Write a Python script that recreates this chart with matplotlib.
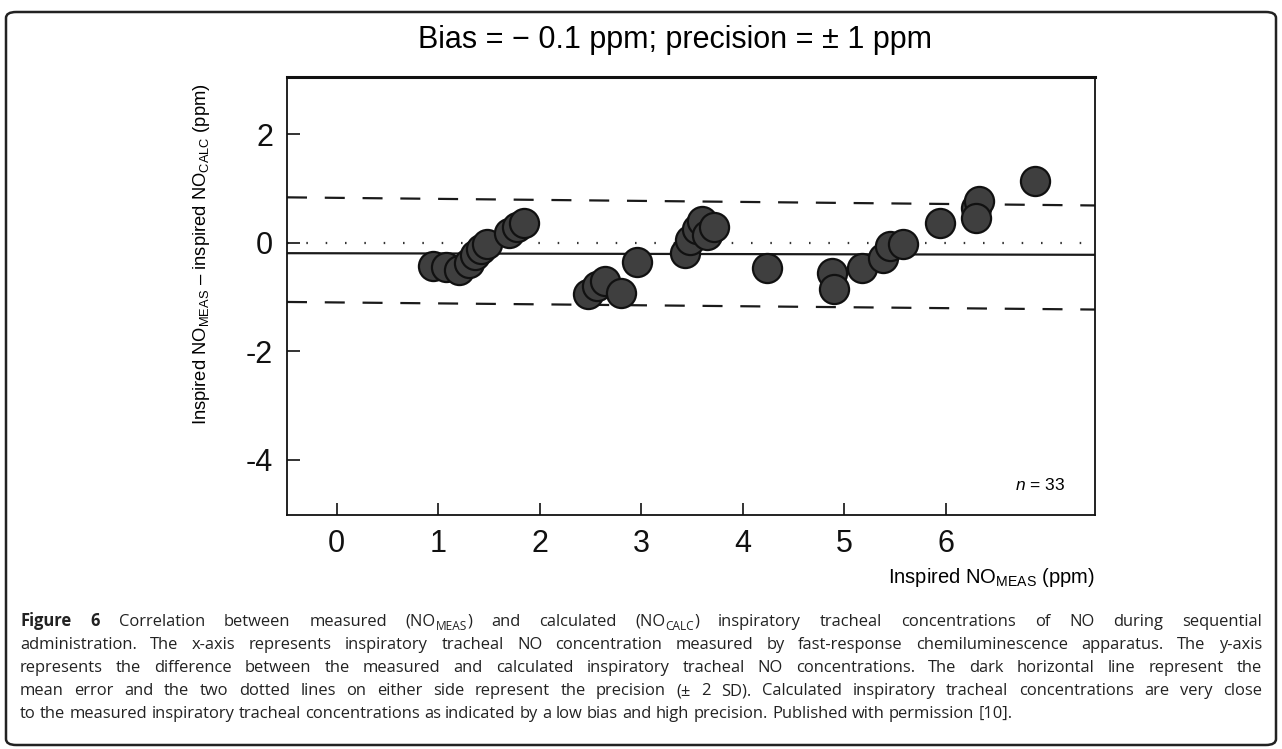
import re

import matplotlib

matplotlib.use("Agg")
import matplotlib.pyplot as plt
from matplotlib.patches import FancyBboxPatch

W, H = 1282, 749

# Bland-Altman style data (n = 33)
meas_no = [0.95, 1.08, 1.20, 1.30, 1.36, 1.42, 1.48, 1.70, 1.78, 1.84,
           2.48, 2.56, 2.64, 2.80, 2.96, 3.43, 3.48, 3.55, 3.60, 3.65,
           3.72, 4.24, 4.88, 4.90, 5.17, 5.38, 5.45, 5.58, 5.94, 6.30,
           6.33, 6.30, 6.88]
diff_no = [-0.42, -0.45, -0.50, -0.38, -0.22, -0.12, -0.02, 0.18, 0.30, 0.36,
           -0.95, -0.80, -0.70, -0.92, -0.36, -0.18, 0.05, 0.25, 0.40, 0.15,
           0.30, -0.46, -0.55, -0.85, -0.46, -0.28, -0.05, -0.02, 0.36, 0.65,
           0.78, 0.45, 1.15]

line_x = [-0.49, 7.47]
bias_line = [-0.19, -0.22]
upper_limit = [0.84, 0.69]
lower_limit = [-1.09, -1.23]
zero_line = [0.0, 0.0]

x_ticks = [0, 1, 2, 3, 4, 5, 6]
y_ticks = [2, 0, -2, -4]

title = "Bias = \u2212 0.1 ppm; precision = \u00b1 1 ppm"
y_label = (r"Inspired NO$_{\mathregular{MEAS}}$" + " \u2013 "
           + r"inspired NO$_{\mathregular{CALC}}$ (ppm)")
x_label = r"Inspired NO$_{\mathregular{MEAS}}$ (ppm)"
caption_lines = [
    "**Figure** **6** Correlation between measured (NO_{MEAS}) and calculated (NO_{CALC}) inspiratory tracheal concentrations of NO during sequential",
    "administration. The x-axis represents inspiratory tracheal NO concentration measured by fast-response chemiluminescence apparatus. The y-axis",
    "represents the difference between the measured and calculated inspiratory tracheal NO concentrations. The dark horizontal line represent the",
    "mean error and the two dotted lines on either side represent the precision (\u00b1 2 SD). Calculated inspiratory tracheal concentrations are very close",
    "to the measured inspiratory tracheal concentrations as indicated by a low bias and high precision. Published with permission [10].",
]

plt.rcParams["font.family"] = ["Liberation Sans", "DejaVu Sans"]
plt.rcParams["axes.unicode_minus"] = False
plt.rcParams["mathtext.fontset"] = "custom"
plt.rcParams["mathtext.rm"] = "Liberation Sans"
plt.rcParams["mathtext.it"] = "Liberation Sans:italic"

fig = plt.figure(figsize=(W / 100, H / 100), dpi=100)
ax = fig.add_axes([287 / W, 1 - 515 / H, (1095 - 287) / W, (515 - 77) / H])

ax.plot(line_x, zero_line, color="#333333", lw=1.6, ls=(0, (0.7, 8)), zorder=1)
ax.plot(line_x, bias_line, color="#1a1a1a", lw=1.6, zorder=1)
ax.plot(line_x, upper_limit, color="#1a1a1a", lw=1.6, ls=(0, (9, 8)), zorder=1)
ax.plot(line_x, lower_limit, color="#1a1a1a", lw=1.6, ls=(0, (9, 8)), zorder=1)
ax.scatter(meas_no, diff_no, s=440, c="#3f3f3f", edgecolors="#111111",
           linewidths=1.6, zorder=3)

ax.set_xlim(-0.49, 7.47)
ax.set_ylim(-5.02, 3.06)
ax.set_xticks(x_ticks)
ax.set_yticks(y_ticks)
ax.tick_params(direction="in", length=9, width=1.2, labelsize=22, pad=10,
               colors="#111111")
for side, sp in ax.spines.items():
    sp.set_linewidth(2.2 if side == "top" else 1.3)
    sp.set_color("#111111")

ax.set_ylabel(y_label, fontsize=13.2)
ax.yaxis.set_label_coords(-0.093, 0.596)
ax.set_xlabel(x_label, loc="right", fontsize=14.5, labelpad=5)
ax.text(0.963, 0.068, r"$\mathit{n}$ = 33", transform=ax.transAxes,
        ha="right", va="center", fontsize=12.5)

fig.text(675 / W, 1 - 40 / H, title, ha="center", va="center", fontsize=22)

fig.patches.append(FancyBboxPatch(
    (6 / W, 1 - 745 / H), 1270 / W, 733 / H,
    boxstyle="round,pad=0,rounding_size=0.008", transform=fig.transFigure,
    fill=False, lw=1.8, edgecolor="#222222"))

# caption, justified word by word
renderer = fig.canvas.get_renderer()
cap_font = ["Open Sans", "DejaVu Sans"]
cap_size = 11.9
x0, x1 = 20, 1262


def pieces(word):
    bold = word.startswith("**")
    word = word.strip("*")
    parts = re.split(r"_\{(.*?)\}", word)
    return [(p, i % 2 == 1, bold) for i, p in enumerate(parts) if p]


def make_text(s, sub, bold, y):
    size = cap_size * 0.72 if sub else cap_size
    return fig.text(0, y, s, fontsize=size, family=cap_font, va="baseline",
                    weight="bold" if bold else "normal", color="#222222")


probe_a = fig.text(0, 0, "a a", fontsize=cap_size, family=cap_font)
probe_b = fig.text(0, 0, "aa", fontsize=cap_size, family=cap_font)
space_w = (probe_a.get_window_extent(renderer).width
           - probe_b.get_window_extent(renderer).width)
probe_a.remove()
probe_b.remove()

for i, line in enumerate(caption_lines):
    base = 626 + 23 * i
    words = []
    for w in line.split(" "):
        items = []
        for s, sub, bold in pieces(w):
            y = 1 - (base + (4 if sub else 0)) / H
            t = make_text(s, sub, bold, y)
            items.append((t, t.get_window_extent(renderer).width))
        words.append(items)
    total = sum(wd for items in words for _, wd in items)
    if i < len(caption_lines) - 1:
        gap = (x1 - x0 - total) / (len(words) - 1)
    else:
        gap = space_w
    x = x0
    for items in words:
        for t, wd in items:
            t.set_x(x / W)
            x += wd
        x += gap

fig.savefig("out.png", dpi=100)
